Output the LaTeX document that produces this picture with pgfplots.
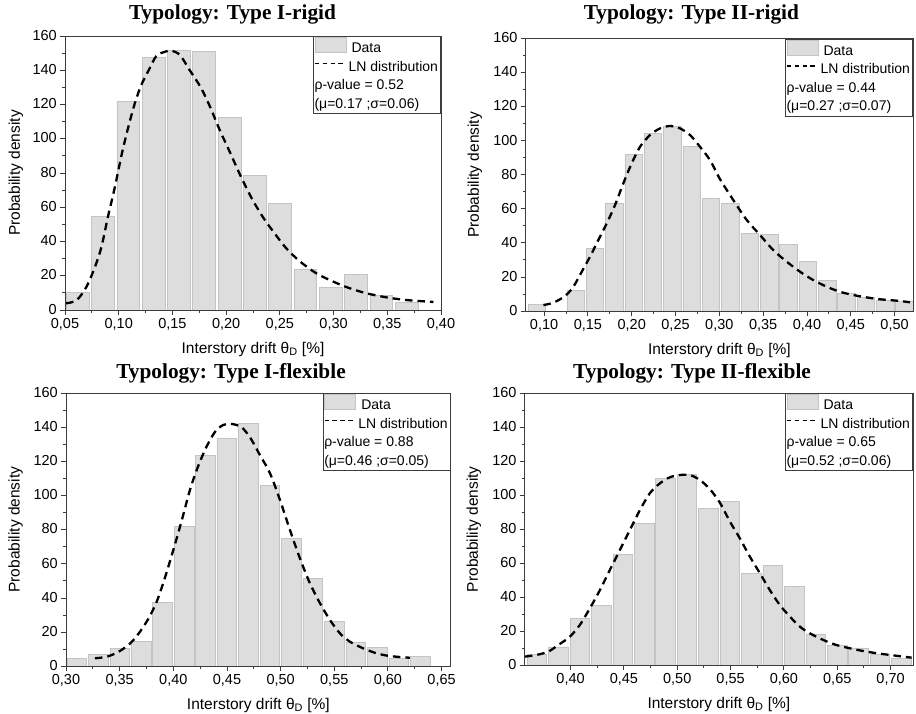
\documentclass[border=0pt]{standalone}
\usepackage{fontspec}
\setmainfont{Liberation Sans}
\newfontfamily\titlefont{Liberation Serif}
\usepackage{pgfplots}
\pgfplotsset{compat=1.18}
\definecolor{barfill}{RGB}{221,221,221}
\definecolor{baredge}{RGB}{196,196,196}
\definecolor{axcol}{RGB}{60,60,60}
\newcommand\ticfont{\fontsize{14.5bp}{16bp}\selectfont}
\newcommand\labfont{\fontsize{15.5bp}{18bp}\selectfont}
\newcommand\legfont{\fontsize{14bp}{16bp}\selectfont}
\newcommand\ttlfont{\titlefont\bfseries\fontsize{21.3bp}{24bp}\selectfont}
\pgfplotsset{
 panel/.style={
  scale only axis, axis on top,
  ymin=0, ymax=160, ytick={0,20,...,160},
  minor x tick num=1, minor y tick num=1,
  tick align=outside, xtick pos=left, ytick pos=left,
  major tick length=5bp, minor tick length=3bp,
  axis line style={axcol, line width=0.9bp},
  every tick/.append style={axcol, line width=0.9bp},
  /pgf/number format/assume math mode=true,
  ticklabel style={font=\ticfont, inner sep=0pt},
  xticklabel style={/pgf/number format/fixed, /pgf/number format/fixed zerofill, /pgf/number format/precision=2, /pgf/number format/use comma, anchor=north, yshift=-3.2bp},
  yticklabel style={/pgf/number format/fixed, /pgf/number format/precision=0, anchor=east, xshift=-3bp, yshift=0.8bp},
  xlabel={Interstory drift θ\textsubscript{D} [\%]},
  ylabel={Probability density},
  label style={font=\labfont},
  xlabel style={at={(axis description cs:0.5,0)}, anchor=base, yshift=-43bp},
  ylabel style={at={(axis description cs:-0.131,0.5)}, rotate=0, anchor=center},
  legend style={at={(rel axis cs:1,1)}, anchor=north east, draw=axcol, line width=0.9bp, inner sep=0.5bp, row sep=1.5bp, font=\legfont, nodes={text height=10.5bp, text depth=3.5bp, inner ysep=1.5bp, inner xsep=2bp}},
  legend cell align=left,
  title style={font=\ttlfont, anchor=base},
 },
 bars/.style={ybar, bar width=#1, fill=barfill, draw=baredge, line width=0.6bp, forget plot},
 lncurve/.style={smooth, black, line width=2.3bp, dash pattern=on 7.5bp off 5bp, forget plot},
}
\newcommand\leg[2]{%
 \addlegendimage{legend image code/.code={\draw[fill=barfill, draw=baredge, line width=0.6bp] (0bp,-3bp) rectangle (31bp,12bp);}}
 \addlegendentry{\hspace*{3bp}Data}
 \addlegendimage{legend image code/.code={\draw[black, line width=1.3bp, dash pattern=on 4.5bp off 3.3bp] (0bp,4.5bp) -- (31bp,4.5bp);}}
 \addlegendentry{LN distribution}
 \addlegendimage{empty legend}
 \addlegendentry{\hspace*{-34bp}ρ-value = #1}
 \addlegendimage{empty legend}
 \addlegendentry{\hspace*{-34bp}(μ=#2)}
}
\begin{document}
\begin{tikzpicture}
\useasboundingbox (0bp,0bp) rectangle (916bp,-714bp);
% ---------------- Panel 1
\begin{axis}[panel, at={(65bp,-310bp)}, anchor=south west, width=376bp, height=274bp,
  xmin=0.05, xmax=0.40, xtick={0.05,0.10,0.15,0.20,0.25,0.30,0.35,0.40},
  title={Typology: Type I-rigid}, title style={at={(axis description cs:0.4455,1)}, yshift=11bp}]
\addplot[bars=0.0212] coordinates {
(0.0618,10.5) (0.0853,54.5) (0.1089,121.7) (0.1324,147.7) (0.1560,151.8) (0.1795,151.0) (0.2031,112.7)
(0.2266,78.4) (0.2502,62.1) (0.2737,23.8) (0.2973,13.0) (0.3208,20.8) (0.3444,8.8) (0.3679,4.3)};
\addplot[lncurve] coordinates {
(0.051,3.9) (0.061,5.8) (0.070,13.6) (0.078,25.3) (0.084,37) (0.090,54.5) (0.0965,72) (0.103,91.5)
(0.109,107) (0.115,120.7) (0.121,131.4) (0.128,140.1) (0.135,148.3) (0.143,150.8) (0.149,151.4)
(0.157,148.9) (0.166,140.1) (0.176,130.4) (0.185,118.7) (0.194,105.1) (0.204,91.5) (0.213,78.9)
(0.224,65) (0.235,53.5) (0.244,45.7) (0.256,36.0) (0.269,28.2) (0.284,21.4) (0.300,16.5) (0.315,12.7)
(0.331,9.7) (0.349,7.4) (0.368,5.8) (0.393,4.7)};
\leg{0.52}{0.17 ;σ=0.06}
\end{axis}
% ---------------- Panel 2
\begin{axis}[panel, at={(525.7bp,-311bp)}, anchor=south west, width=387.3bp, height=272.3bp,
  xmin=0.079, xmax=0.521, xtick={0.10,0.15,0.20,0.25,0.30,0.35,0.40,0.45,0.50},
  title={Typology: Type II-rigid}, title style={at={(axis description cs:0.4277,1)}, yshift=13.7bp}]
\addplot[bars=0.0200] coordinates {
(0.0918,3.9) (0.1360,12.3) (0.1580,37) (0.1801,63.5) (0.2022,91.9) (0.2243,104.2) (0.2464,108.7)
(0.2684,96.5) (0.2905,66.0) (0.3126,63.5) (0.3347,45.4) (0.3568,45.2) (0.3788,39.0) (0.4009,29.2)
(0.4230,18.2) (0.4451,10.2) (0.4672,7.8) (0.4892,6.3) (0.5113,5.5)};
\addplot[lncurve] coordinates {
(0.0992,3.5) (0.1106,4.9) (0.1239,8.8) (0.1334,14.3) (0.143,23.1) (0.1524,31.9) (0.1619,41.7)
(0.1715,51.5) (0.181,62.3) (0.1904,75.0) (0.200,86.8) (0.2095,96.5) (0.2209,103.4) (0.2323,107.3)
(0.2437,108.7) (0.2551,107.3) (0.2665,103.4) (0.2779,96.5) (0.2893,88.7) (0.3007,77.5) (0.3159,65.2)
(0.3312,53.5) (0.3463,44.7) (0.3615,35.8) (0.3768,29.0) (0.392,23.1) (0.4071,18.2) (0.4224,14.3)
(0.4376,11.3) (0.4528,9.4) (0.468,8.0) (0.4832,6.9) (0.5061,5.9) (0.5175,5.1)};
\leg{0.44}{0.27 ;σ=0.07}
\end{axis}
% ---------------- Panel 3
\begin{axis}[panel, at={(66bp,-666.3bp)}, anchor=south west, width=384.7bp, height=273.3bp,
  xmin=0.30, xmax=0.6585, xtick={0.30,0.35,0.40,0.45,0.50,0.55,0.60,0.65},
  title={Typology: Type I-flexible}, title style={at={(axis description cs:0.429,1)}, yshift=8.7bp}]
\addplot[bars=0.0183] coordinates {
(0.31,4.5) (0.33,7.2) (0.35,10.3) (0.37,14.8) (0.39,37.2) (0.41,82.1) (0.43,123.3) (0.45,133.7)
(0.47,142.0) (0.49,105.8) (0.51,74.7) (0.53,51.3) (0.55,26.1) (0.57,14.0) (0.59,11.3) (0.61,4.7) (0.63,5.6)};
\addplot[lncurve] coordinates {
(0.327,4.7) (0.338,5.6) (0.349,8.5) (0.360,13.5) (0.369,20.3) (0.377,28.1) (0.3845,37.8) (0.392,51.5)
(0.400,68.1) (0.408,85.7) (0.4155,103.2) (0.423,116.9) (0.431,128.6) (0.439,137.4) (0.4466,141.3)
(0.4544,141.9) (0.4637,139.9) (0.472,133.5) (0.4807,123.7) (0.4901,113) (0.4994,97.4) (0.5087,79.8)
(0.518,63.2) (0.5273,48.6) (0.5367,36.9) (0.546,27.1) (0.5553,19.3) (0.5646,14.4) (0.577,10.5)
(0.5895,7.6) (0.6019,6.0) (0.6205,5.0)};
\leg{0.88}{0.46 ;σ=0.05}
\end{axis}
% ---------------- Panel 4
\begin{axis}[panel, at={(524.7bp,-665.3bp)}, anchor=south west, width=388.3bp, height=272.3bp,
  xmin=0.357, xmax=0.721, xtick={0.40,0.45,0.50,0.55,0.60,0.65,0.70},
  title={Typology: Type II-flexible}, title style={at={(axis description cs:0.431,1)}, yshift=8.7bp}]
\addplot[bars=0.0183] coordinates {
(0.3684,6.5) (0.3885,10.8) (0.4086,27.6) (0.4287,35.2) (0.4488,65.2) (0.4689,83.2) (0.4890,110.0)
(0.5091,112.2) (0.5292,92.4) (0.5493,96.1) (0.5694,53.8) (0.5895,58.9) (0.6096,46.4) (0.6297,18.4)
(0.6498,11.5) (0.6699,10.2) (0.6900,6.5) (0.7101,4.1)};
\addplot[lncurve] coordinates {
(0.3572,5.1) (0.3681,6.1) (0.379,8.0) (0.3884,11.9) (0.3993,16.8) (0.4087,23.7) (0.4181,33.5)
(0.4275,44.2) (0.4368,56.0) (0.4462,67.7) (0.4556,79.5) (0.465,91.2) (0.4743,101.1) (0.4837,106.9)
(0.4931,110.5) (0.5025,111.8) (0.5118,111.8) (0.5212,108.9) (0.5306,103.5) (0.540,95.5) (0.5494,84.4)
(0.5587,74.6) (0.5681,63.8) (0.5775,54.1) (0.5868,44.2) (0.5962,35.4) (0.6056,28.6) (0.615,22.7)
(0.6243,18.8) (0.6368,14.9) (0.6493,11.9) (0.6618,10.0) (0.6743,8.4) (0.6868,7.1) (0.6993,6.1)
(0.7118,5.1) (0.7197,4.5)};
\leg{0.65}{0.52 ;σ=0.06}
\end{axis}
\end{tikzpicture}
\end{document}
